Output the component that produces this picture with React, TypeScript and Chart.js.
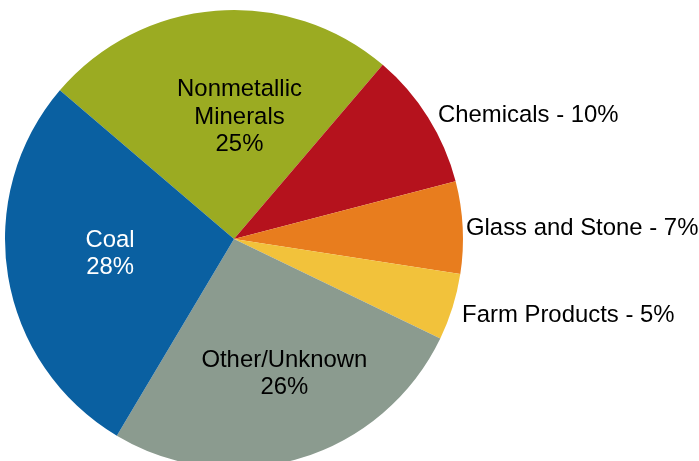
import React, { useEffect, useRef } from "react";
import { Chart, registerables } from "chart.js";

Chart.register(...registerables);

const categories = ["Nonmetallic Minerals", "Chemicals", "Glass and Stone", "Farm Products", "Other/Unknown", "Coal"];
const values = [25.0, 9.7, 6.5, 4.7, 26.4, 27.7];
const labelLines = [
  ["Nonmetallic", "Minerals", "25%"],
  ["Chemicals - 10%"],
  ["Glass and Stone - 7%"],
  ["Farm Products - 5%"],
  ["Other/Unknown", "26%"],
  ["Coal", "28%"],
];
const colors = ["#9BAB22", "#B5121D", "#E87D1E", "#F2C23B", "#8B9B8F", "#0A60A1"];
const textColors = ["#000000", "#000000", "#000000", "#000000", "#000000", "#FFFFFF"];
// label anchors, in units of pie radius relative to the pie centre
const labelAnchor = [
  { x: 0.024, y: -0.624, align: "center" },
  { x: 0.891, y: -0.511, align: "left" },
  { x: 1.013, y: -0.017, align: "left" },
  { x: 0.996, y: 0.362, align: "left" },
  { x: 0.22, y: 0.558, align: "center" },
  { x: -0.541, y: 0.034, align: "center" },
];

const labelPlugin = {
  id: "pieLabels",
  afterDatasetsDraw(chart: any) {
    const meta = chart.getDatasetMeta(0);
    const arc = meta.data[0];
    if (!arc) return;
    const { x: cx, y: cy, outerRadius: r } = arc.getProps(["x", "y", "outerRadius"], true);
    const ctx = chart.ctx;
    ctx.save();
    ctx.font = '23.9px "Liberation Sans", Arial, sans-serif';
    ctx.textBaseline = "alphabetic";
    const lh = 27.5;
    labelLines.forEach((lines, i) => {
      const a = labelAnchor[i];
      ctx.fillStyle = textColors[i];
      ctx.textAlign = a.align;
      lines.forEach((line, j) => {
        ctx.fillText(line, cx + a.x * r, cy + a.y * r + j * lh);
      });
    });
    ctx.restore();
  },
};

export default function App() {
  const ref = useRef<HTMLCanvasElement>(null);
  useEffect(() => {
    const chart = new Chart(ref.current!, {
      type: "pie",
      data: {
        labels: categories,
        datasets: [
          {
            data: values,
            backgroundColor: colors,
            borderWidth: 0,
            radius: 229,
            clip: false,
          } as any,
        ],
      },
      options: {
        responsive: false,
        animation: false,
        rotation: -49.5,
        layout: { padding: { left: 5, top: 17, right: 236, bottom: 0 } },
        plugins: {
          legend: { display: false },
          tooltip: { enabled: false },
        },
      },
      plugins: [labelPlugin],
    });
    return () => chart.destroy();
  }, []);
  return (
    <div style={{ position: "fixed", left: 0, top: 0, width: 699, height: 461, overflow: "hidden", background: "#fff" }}>
      <canvas ref={ref} width={699} height={461} style={{ display: "block" }} />
    </div>
  );
}
